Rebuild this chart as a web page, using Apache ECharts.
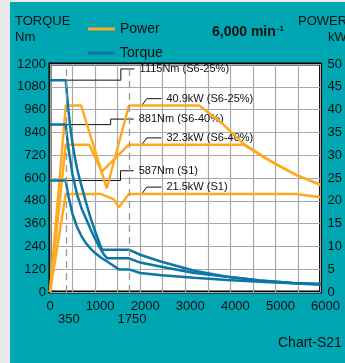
<!DOCTYPE html>
<html><head><meta charset="utf-8">
<script src="https://cdn.jsdelivr.net/npm/echarts@6/dist/echarts.min.js"></script>
<style>
html,body{margin:0;padding:0;background:#e8e9e9;overflow:hidden;}
#bg{position:absolute;left:10px;top:2px;width:335px;height:361px;background:#00a6b2;}
#c{position:absolute;left:0;top:0;width:345px;height:363px;}
</style></head><body><div id="bg"></div><div id="c"></div>
<script>
// ---- data ----
const xLabelValues = [0,1000,2000,3000,4000,5000,6000];
const xExtraLabels = [350,1750];

const tq25Rpm = [0,350,400,450,500,550,600,655,700,800,900,1000,1100,1156,1750,2000,2472,3200,3927,4654,5382,6000];
const tq25Nm  = [1115,1115,976,867,781,710,650,596,557,470,390,320,255,223,223,196,159,112,80,60,48,42];
const tq40Rpm = [0,350,400,500,600,700,800,900,1000,1100,1200,1272,1750,2000,2472,3200,3927,4654,5382,6000];
const tq40Nm  = [881,881,771,617,514,440,385,330,280,235,195,177,177,155,133,100,80,60,48,42];
const tqS1Rpm = [0,350,400,500,600,700,800,900,1000,1127,1300,1418,1527,1750,2000,2472,3200,3927,4654,5382,6000];
const tqS1Nm  = [587,587,513,410,342,293,256,228,205,182,155,137,119,119,100,88,75,63,54,46,38];

const pw25Rpm = [0,350,690,1258,1750,3308,3781,4291,4872,5455,6000];
const pw25kW  = [0,40.9,40.9,22.7,40.9,40.9,37.3,32.5,28.8,25.7,23.5];
const pw40Rpm = [0,350,870,1149,1750,4291,4872,5455,6000];
const pw40kW  = [0,32.3,32.3,26.4,32.3,32.3,28.8,25.7,23.5];
const pwS1Rpm = [0,350,1127,1418,1527,1750,5455,6000];
const pwS1kW  = [0,21.5,21.5,20.3,18.6,21.5,21.5,20.8];

const torqueNoteValues = [1115,881,587];
const torqueNoteLabels = ['1115Nm (S6-25%)','881Nm (S6-40%)','587Nm (S1)'];
const powerNoteValues = [40.9,32.3,21.5];
const powerNoteLabels = ['40.9kW (S6-25%)','32.3kW (S6-40%)','21.5kW (S1)'];

// ---- layout of annotation leaders (rpm / value offsets) ----
const tqKink = [1571,1345,1564];
const tqRise = [59,29,51];
const tqEnd  = [1876,1855,1855];
const pwStart = 2036, pwKink = 2145, pwEnd = 2472, pwRise = 1.5;

const ORANGE = '#ffaa1e', BLUE = '#0a77a6';
const FONT = '"Liberation Sans", Arial, sans-serif';
const zip = (a,b) => a.map((v,i)=>[v,b[i]]);

const series = [];
torqueNoteValues.forEach((v,i)=>{
  series.push({type:'line', name:'note'+i, yAxisIndex:0, symbol:'none', silent:true, z:1,
    data:[[0,v],[tqKink[i],v],[tqKink[i],v+tqRise[i]],[tqEnd[i],v+tqRise[i]]],
    lineStyle:{color:'#111',width:1},
    endLabel:{show:true, formatter:torqueNoteLabels[i], color:'#111', fontSize:11, fontFamily:FONT, distance:5}
  });
});
powerNoteValues.forEach((v,i)=>{
  series.push({type:'line', name:'pnote'+i, yAxisIndex:1, symbol:'none', silent:true, z:1,
    data:[[pwStart,v],[pwKink,v+pwRise],[pwEnd,v+pwRise]],
    lineStyle:{color:'#111',width:1},
    endLabel:{show:true, formatter:powerNoteLabels[i], color:'#111', fontSize:11, fontFamily:FONT, distance:5}
  });
});
[[pw25Rpm,pw25kW],[pw40Rpm,pw40kW],[pwS1Rpm,pwS1kW]].forEach(([x,y],i)=>{
  series.push({type:'line', name:'Power', yAxisIndex:1, symbol:'none', z:3,
    data:zip(x,y), lineStyle:{color:ORANGE,width:2.5}, itemStyle:{color:ORANGE},
    markLine: i===0 ? {silent:true, symbol:'none', label:{show:false},
      lineStyle:{color:'#999',type:[7,5],width:1.3}, data:xExtraLabels.map(v=>({xAxis:v}))} : undefined
  });
});
[[tq25Rpm,tq25Nm],[tq40Rpm,tq40Nm],[tqS1Rpm,tqS1Nm]].forEach(([x,y])=>{
  series.push({type:'line', name:'Torque', yAxisIndex:0, symbol:'none', z:4,
    data:zip(x,y), lineStyle:{color:BLUE,width:2.5}, itemStyle:{color:BLUE}});
});

const lab = {fontSize:13, color:'#111', fontFamily:FONT};
const chart = echarts.init(document.getElementById('c'), null, {renderer:'canvas'});
chart.setOption({
  backgroundColor:'transparent',
  animation:false,
  textStyle:{fontFamily:FONT},
  grid:{left:50, right:20, top:64, bottom:71, show:true, backgroundColor:'#fff', borderColor:'#000', borderWidth:3, z:0},
  legend:{data:['Power','Torque'], orient:'vertical', left:83, top:17, itemWidth:27, itemHeight:3, itemGap:10,
    icon:'rect', textStyle:{fontSize:14, color:'#111', fontFamily:FONT}},
  xAxis:[
    {type:'value', min:0, max:6000, interval:500,
      axisLine:{show:false}, axisTick:{show:false},
      axisLabel:{formatter:v=> xLabelValues.includes(v) ? (v===0 ? '{z|0}' : '{n|'+v+'}') : '', margin:8,
        rich:{z:lab, n:Object.assign({padding:[0,0,0,10]},lab)}},
      splitLine:{show:true, lineStyle:{color:'#a8a8a8', width:1.2}}},
    {type:'value', min:0, max:6000, position:'bottom', offset:13,
      axisLine:{show:false}, axisTick:{show:false}, splitLine:{show:false},
      axisLabel:{customValues:xExtraLabels, formatter:v=>'{n|'+v+'}', margin:8,
        rich:{n:Object.assign({padding:[0,0,0,6]},lab)}}}
  ],
  yAxis:[
    {type:'value', min:0, max:1200, interval:120,
      axisLine:{show:false}, axisTick:{show:false},
      axisLabel:Object.assign({margin:4, formatter:v=>String(v)},lab),
      splitLine:{show:true, lineStyle:{color:'#a8a8a8', width:1.2}}},
    {type:'value', min:0, max:50, interval:5, position:'right',
      axisLine:{show:false}, axisTick:{show:false}, splitLine:{show:false},
      axisLabel:Object.assign({margin:7, formatter:v=>String(v)},lab)}
  ],
  graphic:[
    {type:'text', left:15, top:15, style:{text:'TORQUE', fontSize:13, fill:'#111', fontFamily:FONT}},
    {type:'text', left:15, top:31, style:{text:'Nm', fontSize:13, fill:'#111', fontFamily:FONT}},
    {type:'text', left:298, top:15, style:{text:'POWER', fontSize:13, fill:'#111', fontFamily:FONT}},
    {type:'text', left:328, top:31, style:{text:'kW', fontSize:13, fill:'#111', fontFamily:FONT}},
    {type:'text', left:212, top:25, style:{text:'{b|6,000 min}{s|-1}', rich:{
      b:{fontSize:14, fontWeight:'bold', fill:'#111', fontFamily:FONT},
      s:{fontSize:8, fontWeight:'bold', fill:'#111', fontFamily:FONT, padding:[0,0,7,1]}}}},
    {type:'text', left:278, top:336, style:{text:'Chart-S21', fontSize:14, fill:'#111', fontFamily:FONT}}
  ],
  series
});
</script></body></html>
